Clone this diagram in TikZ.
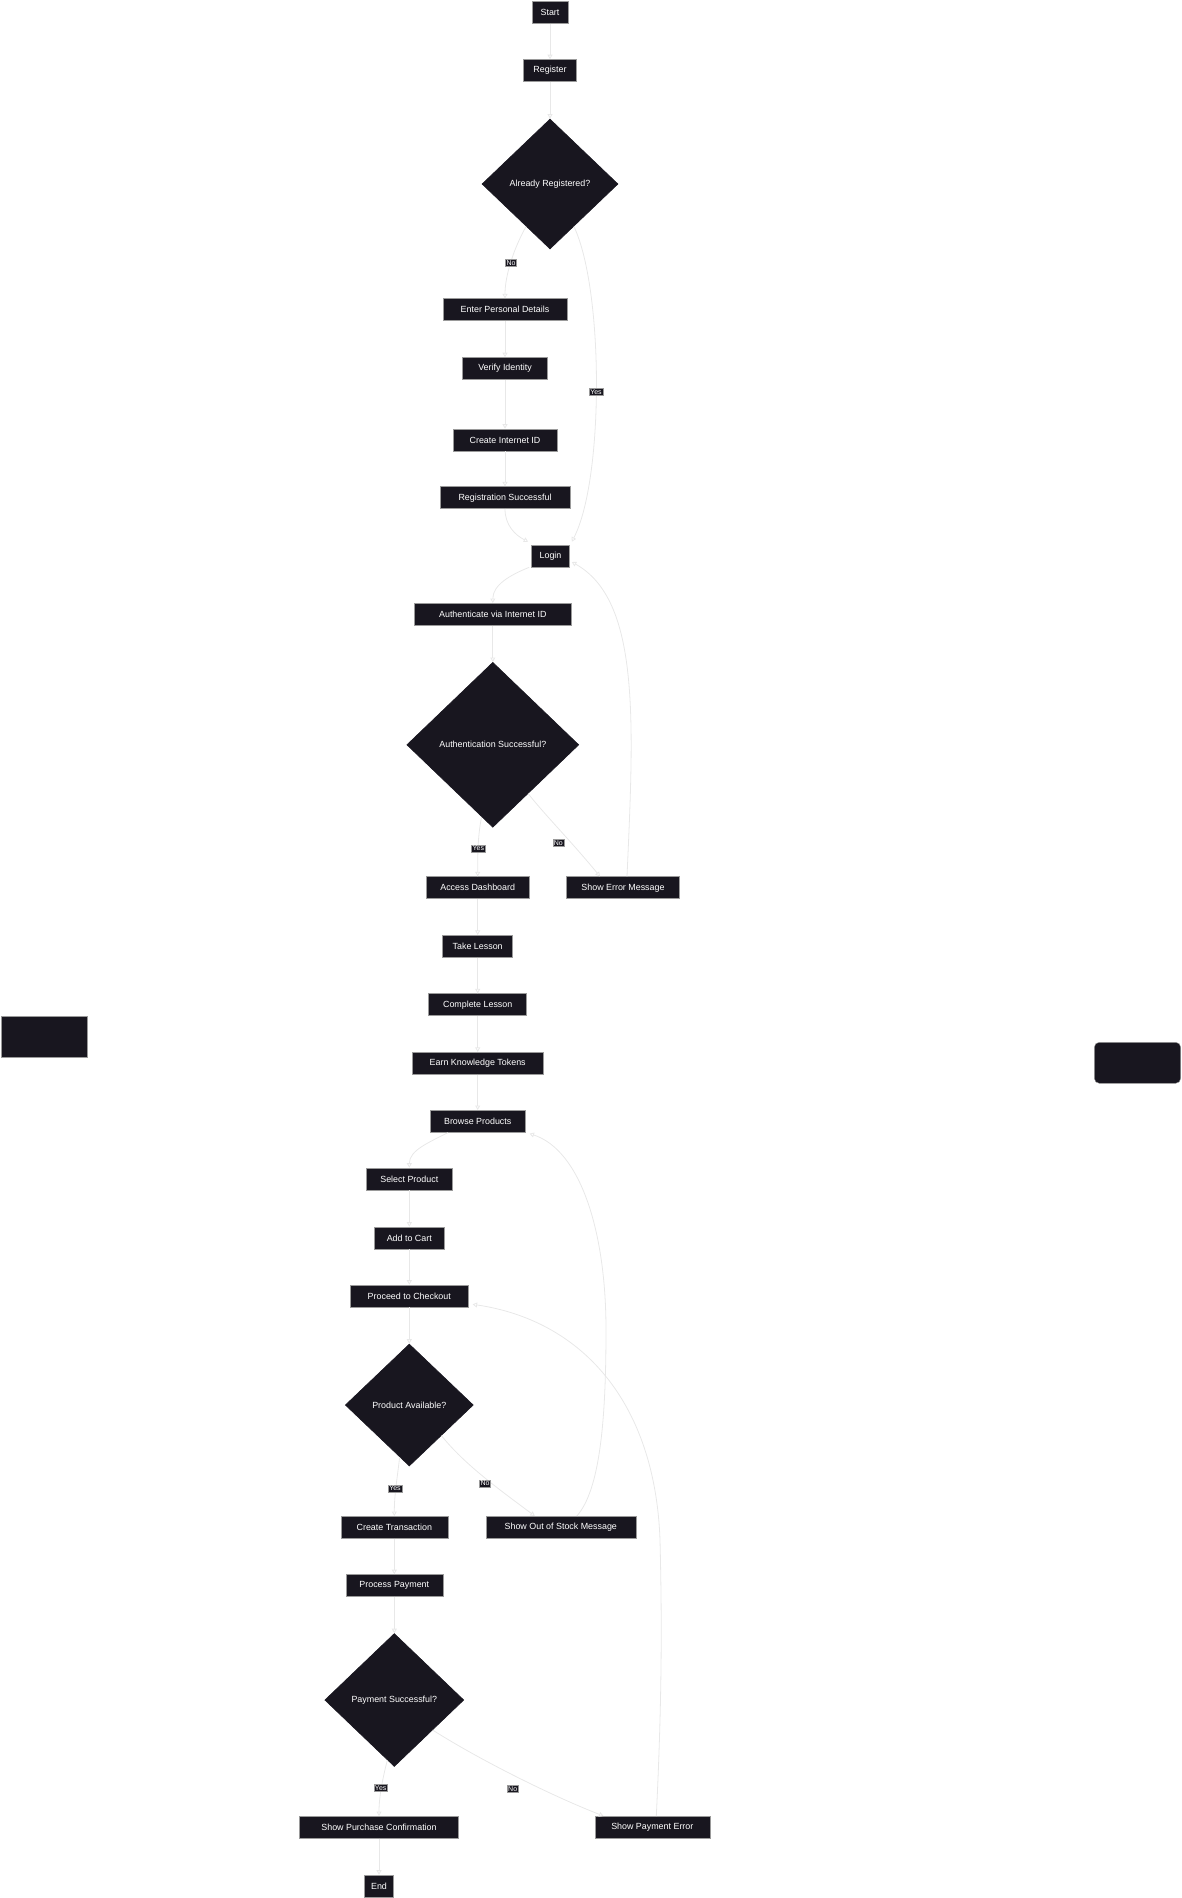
\documentclass[tikz,border=0pt]{standalone}
\usepackage{fontspec}
\setmainfont{Liberation Sans}
\usetikzlibrary{shapes.geometric,arrows.meta,calc}
\definecolor{nodebg}{HTML}{18161F}
\definecolor{nodeborder}{HTML}{9A9A9A}
\definecolor{edgecol}{HTML}{E8E8E8}
\tikzset{
  box/.style={rectangle, fill=nodebg, draw=nodeborder, line width=0.6pt, text=white,
    font=\fontsize{8.9}{10}\selectfont, minimum height=22pt, inner sep=0pt},
  decision/.style={diamond, fill=nodebg, draw=nodebg, line width=0.6pt, text=white,
    font=\fontsize{8.9}{10}\selectfont, inner sep=0pt},
  lbl/.style={rectangle, fill=nodebg, draw=nodeborder, line width=0.3pt, text=white,
    font=\fontsize{7}{7.5}\selectfont, inner sep=1pt},
  flow/.style={draw=edgecol, line width=0.8pt, -{Triangle[open,length=4.5pt,width=5pt]}},
  deco/.style={rectangle, fill=nodebg, draw=nodeborder, line width=0.4pt, inner sep=0pt}
}
\begin{document}
\begin{tikzpicture}[x=1pt,y=-1pt]
\useasboundingbox (0,0) rectangle (1182,1898);
% decorative boxes
\node[deco, minimum width=86.3pt, minimum height=41.3pt] (leftbox) at (44.2,1036.7) {};
\node[deco, rounded corners=5pt, minimum width=86.4pt, minimum height=41pt] (rightbox) at (1137.5,1062.8) {};
% nodes
\node[box, minimum width=36pt] (start) at (550,12.5) {Start};
\node[box, minimum width=53pt] (reg) at (550,70.5) {Register};
\node[decision, minimum width=136pt, minimum height=130pt] (d1) at (550,184) {Already Registered?};
\node[box, minimum width=124pt] (epd) at (505,309.7) {Enter Personal Details};
\node[box, minimum width=85pt] (vi) at (505,368.5) {Verify Identity};
\node[box, minimum width=104pt] (cid) at (505,440) {Create Internet ID};
\node[box, minimum width=130pt] (rs) at (505,497.7) {Registration Successful};
\node[box, minimum width=38pt] (login) at (550.5,556) {Login};
\node[box, minimum width=157pt] (auth) at (492.8,614.3) {Authenticate via Internet ID};
\node[decision, minimum width=172pt, minimum height=165pt] (d2) at (492.8,744.8) {Authentication Successful?};
\node[box, minimum width=103pt] (acc) at (477.7,887.7) {Access Dashboard};
\node[box, minimum width=113pt] (err) at (623,887.7) {Show Error Message};
\node[box, minimum width=70pt] (take) at (477.7,946.2) {Take Lesson};
\node[box, minimum width=98pt] (comp) at (477.7,1004.7) {Complete Lesson};
\node[box, minimum width=131pt] (earn) at (477.7,1063.2) {Earn Knowledge Tokens};
\node[box, minimum width=95pt] (browse) at (477.7,1121.3) {Browse Products};
\node[box, minimum width=86pt] (sel) at (409.3,1179) {Select Product};
\node[box, minimum width=70pt] (add) at (409.3,1238) {Add to Cart};
\node[box, minimum width=118pt] (chk) at (409.3,1296) {Proceed to Checkout};
\node[decision, minimum width=128pt, minimum height=122pt] (d3) at (409.3,1405) {Product Available?};
\node[box, minimum width=107pt] (ct) at (394.3,1527.3) {Create Transaction};
\node[box, minimum width=150pt] (oos) at (560.8,1527.3) {Show Out of Stock Message};
\node[box, minimum width=97pt] (pp) at (394.3,1585.5) {Process Payment};
\node[decision, minimum width=139pt, minimum height=133pt] (d4) at (394.3,1700) {Payment Successful?};
\node[box, minimum width=158.6pt] (pc) at (379,1827.3) {Show Purchase Confirmation};
\node[box, minimum width=115pt] (pe) at (652.3,1827.3) {Show Payment Error};
\node[box, minimum width=28.6pt] (end) at (379,1886) {End};
% straight connectors
\draw[flow] (start.south) -- (reg.north);
\draw[flow] (reg.south) -- (d1.north);
\draw[flow] (epd.south) -- (vi.north);
\draw[flow] (vi.south) -- (cid.north);
\draw[flow] (cid.south) -- (rs.north);
\draw[flow] (auth.south) -- (d2.north);
\draw[flow] (acc.south) -- (take.north);
\draw[flow] (take.south) -- (comp.north);
\draw[flow] (comp.south) -- (earn.north);
\draw[flow] (earn.south) -- (browse.north);
\draw[flow] (sel.south) -- (add.north);
\draw[flow] (add.south) -- (chk.north);
\draw[flow] (chk.south) -- (d3.north);
\draw[flow] (ct.south) -- (pp.north);
\draw[flow] (pp.south) -- (d4.north);
\draw[flow] (pc.south) -- (end.north);
% curved connectors
\draw[flow] ($(d1.south)!0.35!(d1.west)$) .. controls (514,248) and (505,275) .. (epd.north);
\draw[flow] ($(d1.south)!0.35!(d1.east)$) .. controls (604,290) and (604,480) .. ($(login.north east)+(2,-3)$);
\draw[flow] (rs.south) .. controls (505,525) and (515,535) .. ($(login.north west)+(-3,-3)$);
\draw[flow] ($(login.south west)+(-2,0)$) .. controls (510,575) and (492.8,585) .. (auth.north);
\draw[flow] ($(d2.south)!0.13!(d2.west)$) .. controls (478,835) and (477.7,850) .. (acc.north);
\draw[flow] ($(d2.south)!0.41!(d2.east)$) .. controls (545,815) and (570,840) .. ($(err.north)+(-23,0)$);
\draw[flow] ($(err.north)+(4,0)$) .. controls (634,720) and (640,600) .. ($(login.east)+(2,6)$);
\draw[flow] ($(browse.south west)+(18,0)$) .. controls (430,1142) and (409.3,1150) .. (sel.north);
\draw[flow] ($(d3.south)!0.15!(d3.west)$) .. controls (397,1480) and (394.3,1495) .. (ct.north);
\draw[flow] ($(d3.south)!0.5!(d3.east)$) .. controls (465,1465) and (500,1490) .. ($(oos.north)+(-26,0)$);
\draw[flow] ($(oos.north)+(16,0)$) .. controls (600,1490) and (606,1420) .. (606,1330)
   .. controls (606,1230) and (580,1150) .. ($(browse.south east)+(4,1)$);
\draw[flow] ($(d4.south)!0.1!(d4.west)$) .. controls (381,1785) and (379,1800) .. (pc.north);
\draw[flow] ($(d4.south)!0.55!(d4.east)$) .. controls (480,1760) and (550,1795) .. ($(pe.north west)+(9,0)$);
\draw[flow] ($(pe.north)+(4,0)$) .. controls (662,1700) and (662,1620) .. (660,1540)
   .. controls (655,1400) and (580,1320) .. ($(chk.south east)+(4,-3)$);
% edge labels
\node[lbl] (l1) at (511,263) {No};
\node[lbl] (l2) at (596,391.7) {Yes};
\node[lbl] (l3) at (478.3,848.3) {Yes};
\node[lbl] (l4) at (558.3,842.7) {No};
\node[lbl] (l5) at (395,1488.3) {Yes};
\node[lbl] (l6) at (485,1483.3) {No};
\node[lbl] (l7) at (380.7,1788) {Yes};
\node[lbl] (l8) at (512.7,1788.7) {No};
\end{tikzpicture}
\end{document}
